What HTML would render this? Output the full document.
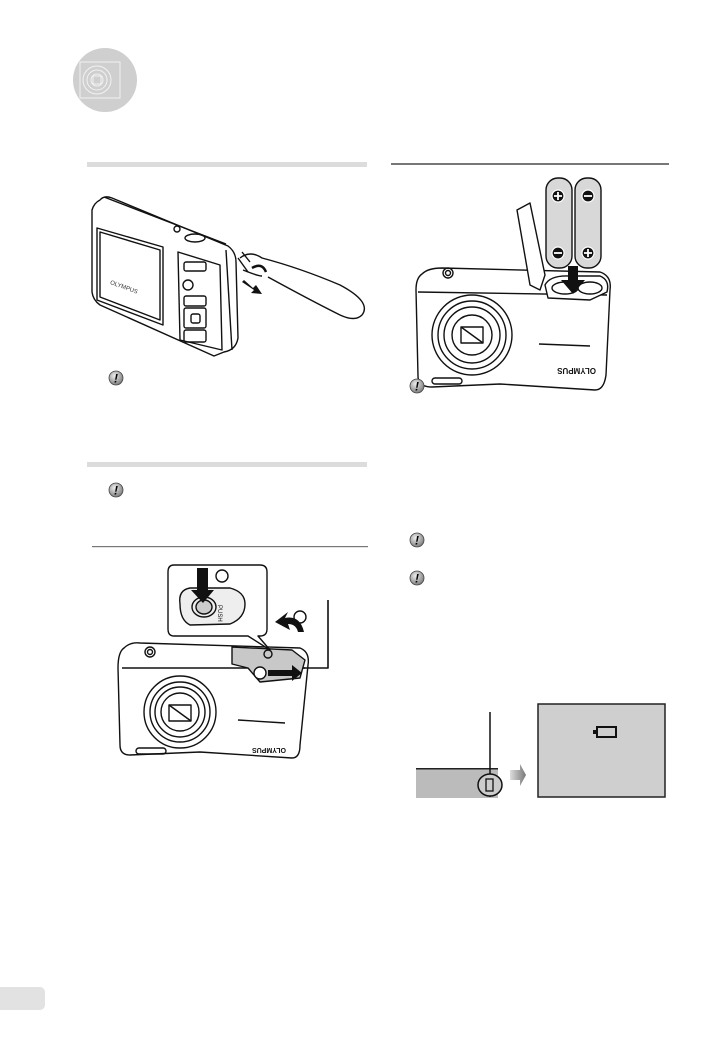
<!DOCTYPE html>
<html><head><meta charset="utf-8"><style>
html,body{margin:0;padding:0;background:#fff}
body{width:727px;height:1033px;overflow:hidden;font-family:"Liberation Sans",sans-serif}
</style></head><body>
<svg width="727" height="1033" viewBox="0 0 727 1033" xmlns="http://www.w3.org/2000/svg">
<defs>
<radialGradient id="ex" cx="40%" cy="35%" r="70%"><stop offset="0" stop-color="#eee"/><stop offset="1" stop-color="#777"/></radialGradient>
<g id="warn"><circle cx="0" cy="0" r="7" fill="url(#ex)" stroke="#444" stroke-width="0.8"/><text x="0" y="4.5" font-size="12" font-weight="bold" text-anchor="middle" font-style="italic" fill="#000">!</text></g>
<linearGradient id="gar" x1="0" x2="1"><stop offset="0" stop-color="#ddd"/><stop offset="1" stop-color="#777"/></linearGradient>
</defs>
<circle cx="105" cy="80" r="32" fill="#cfcfcf"/>
<g fill="none" stroke="#f2f2f2" stroke-width="1">
<rect x="80" y="62" width="40" height="36"/><circle cx="97" cy="80" r="14"/><circle cx="97" cy="80" r="10"/><circle cx="97" cy="80" r="6"/><rect x="93" y="76" width="8" height="8"/>
</g>
<rect x="87" y="162" width="280" height="5" fill="#dcdcdc"/>
<rect x="87" y="462" width="280" height="5" fill="#dcdcdc"/>
<rect x="92" y="546" width="276" height="1.2" fill="#777"/>
<rect x="391" y="163" width="278" height="2" fill="#777"/>
<path d="M0 987 H40 a5 5 0 0 1 5 5 V1005 a5 5 0 0 1 -5 5 H0 Z" fill="#e2e2e2"/>

<!-- camera 1 -->
<g fill="none" stroke="#111" stroke-width="1.4" stroke-linejoin="round">
<path d="M100 200 Q104 195 112 198 L228 246 Q236 252 236 262 L238 338 Q236 350 224 352 L214 356 L100 305 Q93 300 92 292 L92 210 Q94 203 100 200 Z" fill="#fff"/>
<path d="M97 228 L163 247 L163 325 L97 300 Z"/>
<path d="M100 232 L160 250 L160 320 L100 297 Z"/>
<path d="M104 197 L226 244"/>
<path d="M178 252 L220 265 L222 350 L180 340 Z"/>
<rect x="184" y="262" width="22" height="9" rx="2"/>
<circle cx="188" cy="285" r="5"/>
<rect x="184" y="296" width="22" height="10" rx="2"/>
<rect x="184" y="308" width="22" height="20" rx="2"/>
<rect x="191" y="314" width="9" height="9" rx="2"/>
<rect x="184" y="330" width="22" height="12" rx="2"/>
<ellipse cx="195" cy="238" rx="10" ry="4"/>
<circle cx="177" cy="229" r="3"/>
<path d="M226 250 L232 350"/>
<path d="M240 258 Q250 250 262 258 Q300 268 340 285 Q372 302 362 315 Q355 322 340 315 Q310 300 268 277"/>
<path d="M243 270 Q258 276 262 276"/>
<path d="M242 252 L250 262 M238 258 L248 272"/>
<path d="M252 268 Q262 262 266 272" stroke-width="2.5"/>
</g>
<path d="M242 282 L254 290 L251 293 L262 294 L256 285 L253 288 L244 280 Z" fill="#111"/>
<text x="108" y="286" font-size="6" fill="#333" transform="rotate(20 115 290)">OLYMPUS</text>

<use href="#warn" x="116" y="378"/>
<use href="#warn" x="116" y="490"/>

<!-- camera 3 -->
<g fill="none" stroke="#111" stroke-width="1.4" stroke-linejoin="round">
<path d="M124 648 Q130 642 140 643 L300 648 Q310 652 308 665 L300 745 Q300 758 292 758 L200 752 L130 755 Q120 755 120 745 L118 668 Q118 652 124 648 Z" fill="#fff"/>
<path d="M122 668 L305 668"/>
<circle cx="180" cy="712" r="36"/><circle cx="180" cy="712" r="30"/><circle cx="180" cy="712" r="25"/><circle cx="180" cy="712" r="19"/>
<rect x="169" y="705" width="22" height="16"/><path d="M169 705 L191 721"/>
<rect x="136" y="748" width="30" height="6" rx="3"/>
<path d="M238 720 L285 723"/>
<circle cx="150" cy="652" r="5"/><circle cx="150" cy="652" r="2.5"/>
<path d="M232 647 L292 650 L305 660 L300 678 L260 682 L248 668 L232 664 Z" fill="#c8c8c8"/>
<circle cx="268" cy="654" r="4"/>
<path d="M174 565 H260 Q267 565 267 572 V629 Q267 636 260 636 H258 L270 650 L248 636 H174 Q168 636 168 629 V572 Q168 565 174 565 Z" fill="#fff"/>
<path d="M180 604 Q178 590 190 588 L230 588 Q245 592 245 604 Q245 618 230 624 L190 625 Q180 620 180 604 Z" fill="#eee"/>
<ellipse cx="204" cy="607" rx="12" ry="10"/>
<ellipse cx="204" cy="607" rx="8" ry="7" fill="#ccc"/>
<circle cx="222" cy="576" r="6"/>
<circle cx="300" cy="617" r="6"/>
<circle cx="260" cy="673" r="6" fill="#fff"/>
<path d="M303 668 H328 V600" stroke-width="1.6"/>
</g>
<text x="220" y="611" font-size="6" fill="#111" transform="rotate(90 222 607)">PUSH</text>
<path d="M197 568 H208 V590 H214 L203 603 L191 590 H197 Z" fill="#111"/>
<path d="M304 632 Q300 615 285 618 L288 612 L275 622 L290 630 L288 624 Q296 624 298 632 Z" fill="#111"/>
<path d="M268 670 H292 V665 L302 673 L292 681 V676 H268 Z" fill="#111"/>
<text x="250" y="752" font-size="7" font-weight="bold" fill="#111" transform="rotate(180 268 750)">OLYMPUS</text>

<!-- camera 2 -->
<g fill="none" stroke="#111" stroke-width="1.4" stroke-linejoin="round">
<path d="M422 274 Q428 268 442 268 L600 272 Q612 276 610 290 L606 375 Q604 390 595 390 L500 384 L432 387 Q418 387 418 376 L416 290 Q416 278 422 274 Z" fill="#fff"/>
<path d="M418 292 L607 295"/>
<circle cx="472" cy="335" r="40"/><circle cx="472" cy="335" r="34"/><circle cx="472" cy="335" r="28"/><circle cx="472" cy="335" r="20"/>
<rect x="461" y="327" width="22" height="16"/><path d="M461 327 L483 343"/>
<rect x="432" y="378" width="30" height="6" rx="3"/>
<path d="M539 344 L590 346"/>
<circle cx="448" cy="273" r="5"/><circle cx="448" cy="273" r="2.5"/>
<path d="M545 285 Q550 275 570 276 L600 276 Q610 280 607 292 L590 300 L548 298 Z" fill="#fff"/>
<ellipse cx="565" cy="288" rx="13" ry="6"/><ellipse cx="590" cy="288" rx="12" ry="6"/>
<path d="M517 210 L530 203 L545 275 L540 290 L530 285 Z" fill="#fff"/>
<rect x="546" y="178" width="26" height="90" rx="12" fill="#d8d8d8"/>
<rect x="575" y="178" width="26" height="90" rx="12" fill="#d8d8d8"/>
</g>
<g fill="#111" stroke="#fff" stroke-width="1.2">
<circle cx="558" cy="196" r="6"/><circle cx="558" cy="253" r="6"/>
<circle cx="588" cy="196" r="6"/><circle cx="588" cy="253" r="6"/>
</g>
<g stroke="#fff" stroke-width="1.8">
<path d="M554 196 H562 M558 192 V200"/><path d="M554 253 H562"/>
<path d="M584 196 H592"/><path d="M584 253 H592 M588 249 V257"/>
</g>
<path d="M568 266 H578 V280 H585 L573 294 L561 280 H568 Z" fill="#111"/>
<text x="556" y="374" font-size="8" font-weight="bold" fill="#111" transform="rotate(180 576 371)">OLYMPUS</text>

<use href="#warn" x="417" y="386"/>
<use href="#warn" x="417" y="540"/>
<use href="#warn" x="417" y="578"/>

<rect x="416" y="768" width="82" height="30" fill="#bbb"/>
<rect x="416" y="768" width="82" height="1.5" fill="#222"/>
<path d="M490 712 V797" stroke="#111" stroke-width="1.5"/>
<ellipse cx="490" cy="785" rx="12" ry="11" fill="#ccc" stroke="#111" stroke-width="1.5"/>
<rect x="486" y="779" width="7" height="12" fill="none" stroke="#111" stroke-width="1.3"/>
<path d="M510 770 H520 V764 L526 775 L520 786 V780 H510 Z" fill="url(#gar)"/>
<rect x="538" y="704" width="127" height="93" fill="#cfcfcf" stroke="#222" stroke-width="1.5"/>
<rect x="597" y="727" width="19" height="10" fill="none" stroke="#111" stroke-width="2"/>
<rect x="593" y="730" width="4" height="4" fill="#111"/>
</svg>
</body></html>
